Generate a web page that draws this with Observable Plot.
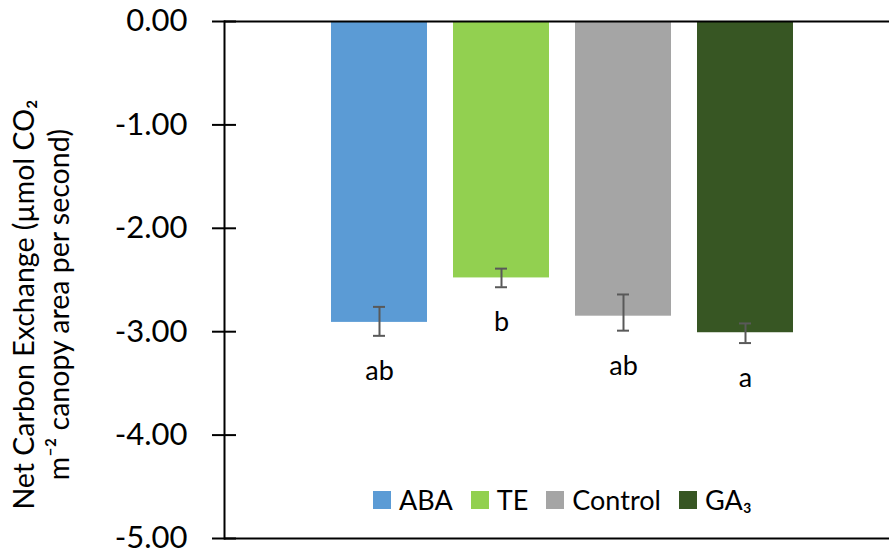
<!DOCTYPE html>
<html>
<head>
<meta charset="utf-8">
<script src="https://cdn.jsdelivr.net/npm/d3@7"></script>
<script src="https://cdn.jsdelivr.net/npm/@observablehq/plot@0.6"></script>
<style>
  html, body { margin: 0; padding: 0; background: #fff; }
  #chart { position: relative; width: 889px; height: 554px; font-family: Lato, "Open Sans", sans-serif; }
  #legend {
    position: absolute; left: 373px; top: 485px;
    display: flex; align-items: center; font-size: 27px; color: #000; line-height: 30px;
  }
  #legend .item { display: flex; align-items: center; margin-right: 18px; }
  #legend .sw { width: 18px; height: 18px; margin-right: 8px; }
</style>
</head>
<body>
<div id="chart"></div>
<script>
// Net carbon exchange by treatment (mean with error bar bounds)
const treatments = ["ABA", "TE", "Control", "GA\u2083"];
const means = [-2.91, -2.48, -2.85, -3.01];
const errLow = [-3.04, -2.57, -2.99, -3.11];
const errHigh = [-2.76, -2.39, -2.64, -2.92];
const letters = ["ab", "b", "ab", "a"];
const colors = ["#5B9BD5", "#92D050", "#A5A5A5", "#375623"];
const yTicks = [0, -1, -2, -3, -4, -5];
const yTitle = ["Net Carbon Exchange (\u00B5mol CO\u2082", "m\u207B\u00B2 canopy area per second)"];

const rows = treatments.map((t, i) => ({
  treatment: t, mean: means[i], lo: errLow[i], hi: errHigh[i], letter: letters[i]
}));

const W = 889, H = 554, ML = 224, MR = 0, MT = 21, MB = 16;
const innerW = W - ML - MR;

const chart = Plot.plot({
  width: W,
  height: H,
  marginLeft: ML,
  marginRight: MR,
  marginTop: MT,
  marginBottom: MB,
  style: { fontFamily: "Lato, 'Open Sans', sans-serif", color: "#000", background: "#fff" },
  x: { domain: treatments, range: [318, 806], paddingInner: 0.213, paddingOuter: 0.1065, axis: null },
  y: { domain: [-5, 0], axis: null },
  color: { domain: treatments, range: colors },
  marks: [
    Plot.barY(rows, { x: "treatment", y: "mean", fill: "treatment" }),
    // error bars
    Plot.ruleX(rows, { x: "treatment", y1: "lo", y2: "hi", stroke: "#595959", strokeWidth: 2 }),
    Plot.tickY(rows, { x: "treatment", y: "lo", stroke: "#595959", strokeWidth: 2, insetLeft: 42, insetRight: 42 }),
    Plot.tickY(rows, { x: "treatment", y: "hi", stroke: "#595959", strokeWidth: 2, insetLeft: 42, insetRight: 42 }),
    // significance letters below error bars
    Plot.text(rows, { x: "treatment", y: "lo", text: "letter", lineAnchor: "bottom", dy: 44, fontSize: 27, fill: "#000" }),
    // horizontal lines at 0 and -5
    Plot.ruleY([0, -5], { stroke: "#000", strokeWidth: 2 }),
    // inner half of the crossing tick marks
    Plot.ruleY(yTicks, { stroke: "#000", strokeWidth: 2, insetRight: innerW - 12 }),
    // vertical axis line
    Plot.frame({ anchor: "left", stroke: "#000", strokeWidth: 2 }),
    Plot.axisY({ ticks: yTicks, tickSize: 12, tickPadding: 25, tickFormat: d => d.toFixed(2), fontSize: 31, stroke: "#000", strokeWidth: 2, strokeOpacity: 1 }),
    // axis title
    Plot.text([yTitle.join("\n")], {
      text: d => d, frameAnchor: "left", textAnchor: "middle", rotate: -90, lineAnchor: "bottom",
      lineHeight: 35 / 28.5, fontSize: 28.5, dx: 68 - ML, dy: 24.5, fill: "#000"
    })
  ]
});

const root = document.getElementById("chart");
root.appendChild(chart);

// legend
const legend = document.createElement("div");
legend.id = "legend";
treatments.forEach((t, i) => {
  const item = document.createElement("div");
  item.className = "item";
  const sw = document.createElement("span");
  sw.className = "sw";
  sw.style.background = colors[i];
  const lab = document.createElement("span");
  lab.textContent = t;
  item.appendChild(sw);
  item.appendChild(lab);
  legend.appendChild(item);
});
root.appendChild(legend);
</script>
</body>
</html>
